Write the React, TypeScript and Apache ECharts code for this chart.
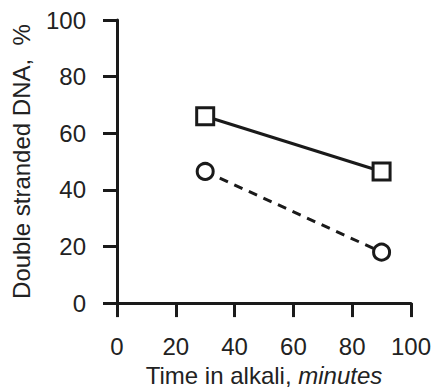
import React, { useEffect, useRef } from "react";
import * as echarts from "echarts";

const xTicks = [0, 20, 40, 60, 80, 100];
const yTicks = [0, 20, 40, 60, 80, 100];
const timeMinutes = [30, 90];
const squareSeries = [66, 46.5];
const circleSeries = [46.5, 18];

const INK = "#1a1a1a";
const FONT = "'Liberation Sans', Arial, Helvetica, sans-serif";
const FS = 24;

export default function App() {
  const ref = useRef<HTMLDivElement>(null);
  useEffect(() => {
    if (!ref.current) return;
    const chart = echarts.init(ref.current, undefined, { renderer: "svg" });
    const axisCommon = {
      min: 0,
      max: 100,
      interval: 20,
      splitLine: { show: false },
      axisLine: { show: true, lineStyle: { color: INK, width: 3 } },
      axisTick: { show: true, inside: false, length: 14, lineStyle: { color: INK, width: 3 } },
    };
    chart.setOption({
      animation: false,
      backgroundColor: "#ffffff",
      grid: { left: 117, right: 22, top: 20, bottom: 87, containLabel: false },
      xAxis: {
        type: "value",
        ...axisCommon,
        axisLabel: {
          margin: 31,
          fontSize: FS,
          fontFamily: FONT,
          color: "#222",
          formatter: (v: number) => (xTicks.includes(v) ? String(v) : ""),
        },
        name: "{a|Time in alkali, }{b|minutes}",
        nameLocation: "middle",
        nameGap: 53,
        nameTextStyle: {
          rich: {
            a: { fontSize: FS, fontFamily: FONT, color: "#222" },
            b: { fontSize: FS, fontFamily: FONT, color: "#222", fontStyle: "italic" },
          },
        },
      },
      yAxis: {
        type: "value",
        ...axisCommon,
        axisLabel: {
          margin: 31,
          fontSize: FS,
          fontFamily: FONT,
          color: "#222",
          formatter: (v: number) => (yTicks.includes(v) ? String(v) : ""),
        },
        name: "Double stranded DNA,  %",
        nameLocation: "middle",
        nameGap: 84,
        nameTextStyle: { fontSize: FS, fontFamily: FONT, color: "#222" },
      },
      series: [
        {
          type: "line",
          data: timeMinutes.map((t, i) => [t, squareSeries[i]]),
          symbol: "rect",
          symbolSize: 17,
          lineStyle: { color: INK, width: 3, type: "solid" },
          itemStyle: { color: "#ffffff", borderColor: INK, borderWidth: 3 },
          z: 3,
        },
        {
          type: "line",
          data: timeMinutes.map((t, i) => [t, circleSeries[i]]),
          symbol: "circle",
          symbolSize: 16,
          lineStyle: { color: INK, width: 3, type: [9, 7] },
          itemStyle: { color: "#ffffff", borderColor: INK, borderWidth: 3 },
          z: 3,
        },
      ],
    });
    return () => chart.dispose();
  }, []);
  return <div ref={ref} style={{ width: 434, height: 392, position: "absolute", left: 0, top: 0 }} />;
}
